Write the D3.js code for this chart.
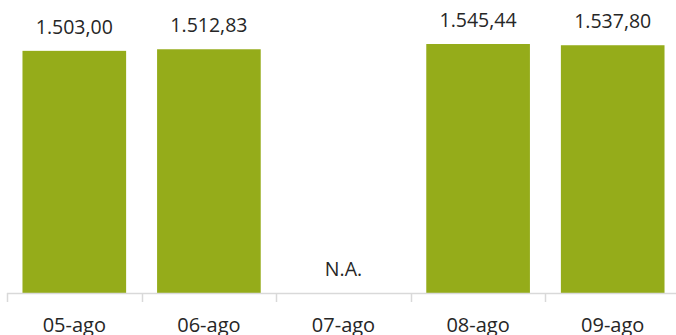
<!DOCTYPE html>
<html>
<head>
<meta charset="utf-8">
<script src="https://cdn.jsdelivr.net/npm/d3@7"></script>
<style>
  html, body { margin: 0; padding: 0; background: #fff; }
  svg { display: block; font-family: "Open Sans", "Noto Sans", sans-serif; }
</style>
</head>
<body>
<svg id="chart" width="676" height="335"></svg>
<script>
/* barre giornaliere – valori con virgola decimale */

const categories = ["05-ago", "06-ago", "07-ago", "08-ago", "09-ago"];
const values = [1503.00, 1512.83, null, 1545.44, 1537.80];
const NA_LABEL = "N.A.";

const BAR_COLOR = "#95ac1a";
const TEXT_COLOR = "#262626";
const AXIS_COLOR = "#d9d9d9";

const W = 676, H = 335;
const plot = { left: 7, right: 680, top: 3, bottom: 293 };

const fmt = d3.formatLocale({
  decimal: ",",
  thousands: ".",
  grouping: [3],
  currency: ["", ""]
}).format(",.2f");

const svg = d3.select("#chart");

const x = d3.scaleBand()
  .domain(categories)
  .range([plot.left, plot.right])
  .paddingInner(0.23)
  .paddingOuter(0.115);

const y = d3.scaleLinear()
  .domain([0, 1800])
  .range([plot.bottom, plot.top]);

const data = categories.map((c, i) => ({ cat: c, val: values[i] }));

// barre
svg.append("g")
  .selectAll("rect")
  .data(data.filter(d => d.val != null))
  .join("rect")
  .attr("x", d => x(d.cat))
  .attr("y", d => y(d.val))
  .attr("width", x.bandwidth())
  .attr("height", d => y(0) - y(d.val))
  .attr("fill", BAR_COLOR);

// etichette valori
svg.append("g")
  .selectAll("text")
  .data(data)
  .join("text")
  .attr("x", d => x(d.cat) + x.bandwidth() / 2)
  .attr("y", d => y(d.val == null ? 0 : d.val) - 17)
  .attr("text-anchor", "middle")
  .attr("font-size", 19.5)
  .attr("fill", TEXT_COLOR)
  .text(d => d.val == null ? NA_LABEL : fmt(d.val));

// asse x con tick tra le categorie
const axisG = svg.append("g");
axisG.append("line")
  .attr("x1", plot.left).attr("x2", plot.right)
  .attr("y1", y(0) + 0.5).attr("y2", y(0) + 0.5)
  .attr("stroke", AXIS_COLOR)
  .attr("stroke-width", 1.5);

const step = x.step();
const bounds = d3.range(categories.length + 1).map(i => plot.left + i * (plot.right - plot.left) / categories.length);
axisG.selectAll("line.tick")
  .data(bounds)
  .join("line")
  .attr("class", "tick")
  .attr("x1", d => Math.round(d) + 0.5).attr("x2", d => Math.round(d) + 0.5)
  .attr("y1", y(0)).attr("y2", y(0) + 9)
  .attr("stroke", AXIS_COLOR)
  .attr("stroke-width", 1.5);

axisG.selectAll("text")
  .data(categories)
  .join("text")
  .attr("x", d => x(d) + x.bandwidth() / 2)
  .attr("y", 332)
  .attr("text-anchor", "middle")
  .attr("font-size", 20)
  .attr("fill", TEXT_COLOR)
  .text(d => d);
</script>
</body>
</html>
